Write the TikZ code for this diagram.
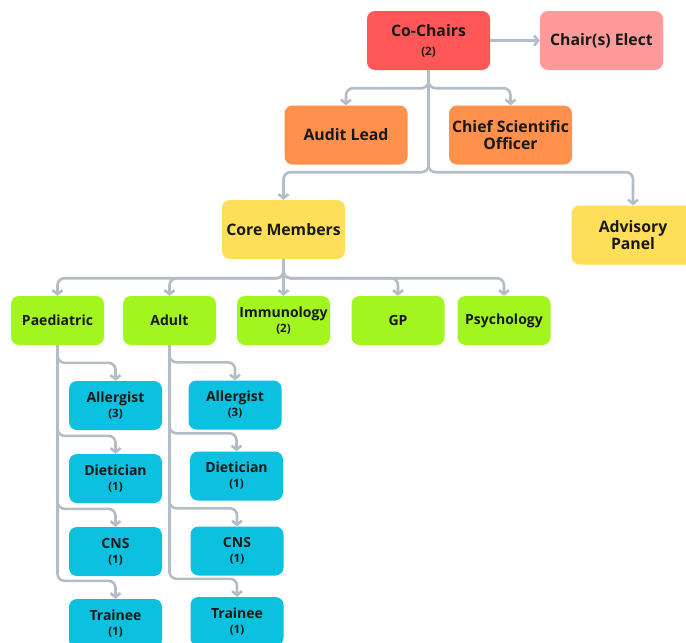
\documentclass[tikz,border=0pt]{standalone}
\usepackage{fontspec}
\setmainfont{Open Sans}[Ligatures=NoCommon]
\usetikzlibrary{arrows.meta}
\definecolor{chair}{HTML}{FF5757}
\definecolor{elect}{HTML}{FF9A9A}
\definecolor{lead}{HTML}{FF914D}
\definecolor{core}{HTML}{FFDE59}
\definecolor{group}{HTML}{A2F51F}
\definecolor{staff}{HTML}{0CC0DF}
\definecolor{wire}{HTML}{B2BDC6}
\newcommand\cnt[1]{\\\fontsize{11.5}{15}\selectfont(#1)}

\begin{document}
\begin{tikzpicture}[x=1pt,y=-1pt,
  box/.style={rounded corners=8pt,align=center,inner sep=2pt,text=black!90,font=\bfseries\fontsize{15.8}{19}\selectfont},
  big/.style={box,minimum width=123pt,minimum height=59pt},
  small/.style={box,minimum width=93pt,minimum height=49pt,font=\bfseries\fontsize{14}{15}\selectfont},
  wire/.style={draw=wire,line width=2.6pt,rounded corners=7pt,-{Straight Barb[length=4pt,width=10pt]}}]
  \useasboundingbox (0,0) rectangle (686,643);
  \clip (0,0) rectangle (686,643);

  % top
  \node[big,fill=chair] (cc) at (428.5,40.5) {Co-Chairs\cnt{2}};
  \node[big,fill=elect] (elect) at (601.5,40.5) {Chair(s) Elect};
  \node[big,fill=lead] (audit) at (346,135) {Audit Lead};
  \node[big,fill=lead] (cso) at (510.5,135) {Chief Scientific\\[-2pt]Officer};
  \node[big,fill=core] (core) at (283.5,229.5) {Core Members};
  \node[big,fill=core] (adv) at (633,235) {Advisory\\[-2pt]Panel};

  % groups
  \node[small,fill=group] (paed) at (57.5,320.5) {Paediatric};
  \node[small,fill=group] (adult) at (169.5,320.5) {Adult};
  \node[small,fill=group] (imm) at (283.5,320.5) {Immunology\cnt{2}};
  \node[small,fill=group] (gp) at (398,320.5) {GP};
  \node[small,fill=group] (psy) at (504,320.5) {Psychology};

  % staff
  \node[small,fill=staff] (pall) at (115.5,405.5) {Allergist\cnt{3}};
  \node[small,fill=staff] (pdiet) at (115.5,478.5) {Dietician\cnt{1}};
  \node[small,fill=staff] (pcns) at (115.5,551.5) {CNS\cnt{1}};
  \node[small,fill=staff] (ptrn) at (115.5,623.5) {Trainee\cnt{1}};
  \node[small,fill=staff] (aall) at (235,405) {Allergist\cnt{3}};
  \node[small,fill=staff] (adiet) at (236.5,476) {Dietician\cnt{1}};
  \node[small,fill=staff] (acns) at (237,551) {CNS\cnt{1}};
  \node[small,fill=staff] (atrn) at (237,621.5) {Trainee\cnt{1}};

  \draw[wire] (cc) -- (elect);
  \draw[wire] (cc.south) -- ++(0,18) -| (audit.north);
  \draw[wire] (cc.south) -- ++(0,18) -| (cso.north);
  \draw[wire] (cc.south) -- ++(0,102) -| (core.north);
  \draw[wire] (cc.south) -- ++(0,102) -| (adv.north);
  \foreach \n in {paed,adult,gp,psy}
    \draw[wire] (core.south) -- ++(0,19) -| (\n.north);
  \draw[wire] (core) -- (imm);
  \foreach \g/\p in {paed/p,adult/a}
    \foreach \s in {all,diet,cns,trn}
      \draw[wire] (\g.south) |- ([yshift=18pt]\p\s.north) -- (\p\s.north);
\end{tikzpicture}
\end{document}
